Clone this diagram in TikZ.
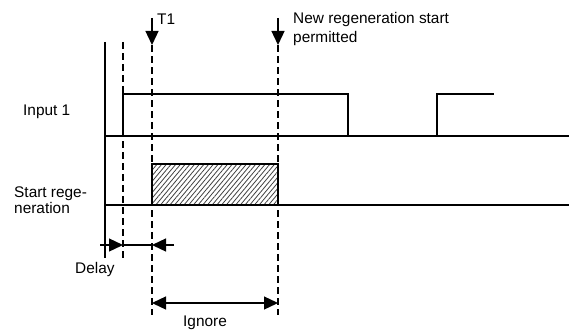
\documentclass[tikz,border=0pt]{standalone}
\usepackage{fontspec}
\setmainfont{Liberation Sans}
\usetikzlibrary{arrows.meta,patterns.meta}
\begin{document}
\begin{tikzpicture}[x=1pt,y=-1pt,
  sig/.style={line width=1.3pt},
  guide/.style={line width=1.1pt,dash pattern=on 7pt off 4pt},
  lbl/.style={inner sep=0pt,anchor=base west,font=\fontsize{15.4}{18}\selectfont},
  tip/.style={-{Triangle[length=14pt,width=13pt]}},
  dtip/.style={line width=1.3pt,{Triangle[length=14pt,width=13pt]}-{Triangle[length=14pt,width=13pt]}}]
\useasboundingbox (0,0) rectangle (569,329);
% coordinates
\coordinate (axT) at (105,42);
\coordinate (axB) at (105,258);
\coordinate (d1T) at (123,42);
\coordinate (d1B) at (123,258);
\coordinate (d2T) at (152,45);
\coordinate (d2B) at (152,315);
\coordinate (d3T) at (278,45);
\coordinate (d3B) at (278,315);
% axis
\draw[sig] (axT) -- (axB);
% guides
\draw[guide] (d1T) -- (d1B);
\draw[guide] (d2T) -- (d2B);
\draw[guide] (d3T) -- (d3B);
% event arrows
\coordinate (a1) at (152,18);
\coordinate (a2) at (278,18);
\draw[sig,tip] (a1) -- (d2T);
\draw[sig,tip] (a2) -- (d3T);
\node[lbl] (t1) at (157,25) {T1};
\node[lbl] (nr1) at (293,24) {New regeneration start};
\node[lbl] (nr2) at (293,42) {permitted};
% Input 1
\node[lbl] (in1) at (23,115) {Input 1};
\draw[sig] (105,136) -- (569,136);
\draw[sig] (123,136) -- (123,94) -- (348,94) -- (348,136);
\draw[sig] (437,136) -- (437,94) -- (494,94);
% Start regeneration
\node[lbl] (sr1) at (14,197) {Start rege-};
\node[lbl] (sr2) at (14,213) {neration};
\draw[pattern={Lines[angle=50,distance=3.6pt,line width=0.8pt]},pattern color=black!75]
  (152,164) rectangle (278,205);
\draw[sig] (152,205) -- (152,164) -- (278,164) -- (278,205);
\draw[sig] (105,205) -- (569,205);
% Delay
\coordinate (dl0) at (100,245);
\coordinate (dl1) at (123,245);
\coordinate (dl2) at (152,245);
\coordinate (dl3) at (174,245);
\draw[sig,tip] (dl0) -- (dl1);
\draw[sig] (dl1) -- (dl2);
\draw[sig,tip] (dl3) -- (dl2);
\node[lbl] (delay) at (75,273) {Delay};
% Ignore
\coordinate (ig1) at (152,303);
\coordinate (ig2) at (278,303);
\draw[dtip] (ig1) -- (ig2);
\node[lbl] (ign) at (183,326) {Ignore};
\end{tikzpicture}
\end{document}
